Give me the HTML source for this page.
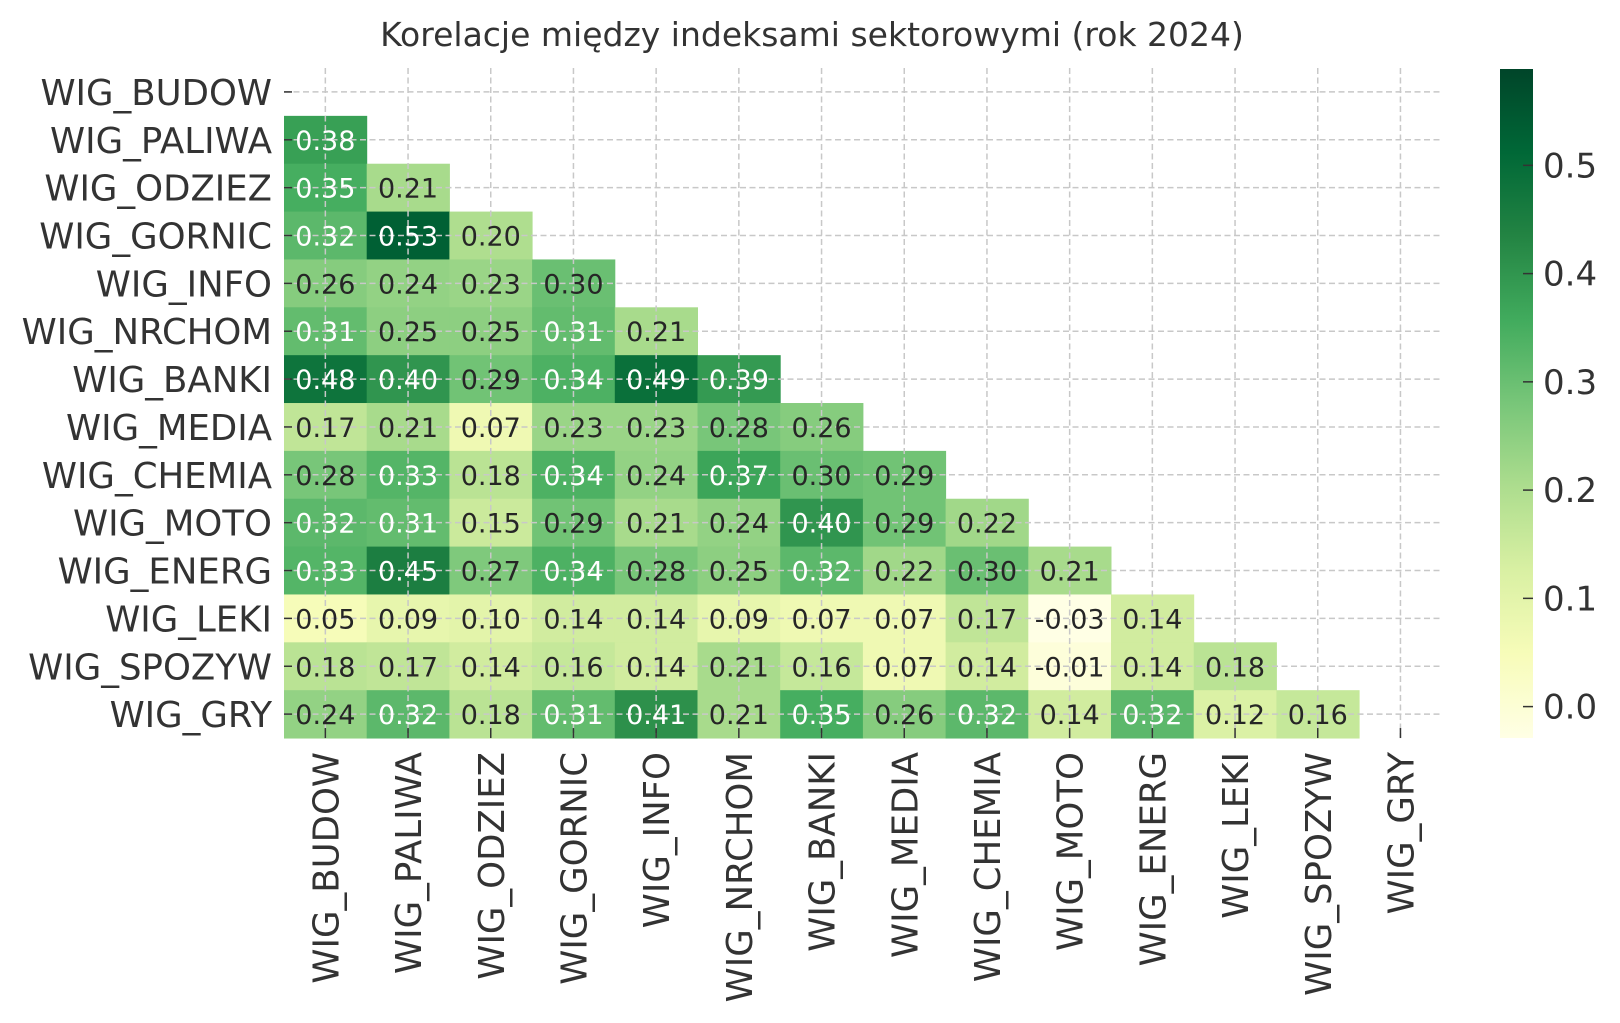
<!DOCTYPE html>
<html><head><meta charset="utf-8"><style>
html,body{margin:0;padding:0;background:#fff;}
svg{display:block;font-family:"DejaVu Sans","Liberation Sans",sans-serif;}
</style></head><body>
<svg id="s" width="1620" height="1023" xmlns="http://www.w3.org/2000/svg"></svg>
<script>
const names=["WIG_BUDOW","WIG_PALIWA","WIG_ODZIEZ","WIG_GORNIC","WIG_INFO","WIG_NRCHOM","WIG_BANKI","WIG_MEDIA","WIG_CHEMIA","WIG_MOTO","WIG_ENERG","WIG_LEKI","WIG_SPOZYW","WIG_GRY"];
const V=[[],
[0.38],
[0.35,0.21],
[0.32,0.53,0.20],
[0.26,0.24,0.23,0.30],
[0.31,0.25,0.25,0.31,0.21],
[0.48,0.40,0.29,0.34,0.49,0.39],
[0.17,0.21,0.07,0.23,0.23,0.28,0.26],
[0.28,0.33,0.18,0.34,0.24,0.37,0.30,0.29],
[0.32,0.31,0.15,0.29,0.21,0.24,0.40,0.29,0.22],
[0.33,0.45,0.27,0.34,0.28,0.25,0.32,0.22,0.30,0.21],
[0.05,0.09,0.10,0.14,0.14,0.09,0.07,0.07,0.17,-0.03,0.14],
[0.18,0.17,0.14,0.16,0.14,0.21,0.16,0.07,0.14,-0.01,0.14,0.18],
[0.24,0.32,0.18,0.31,0.41,0.21,0.35,0.26,0.32,0.14,0.32,0.12,0.16]];
const stops=["#ffffe5","#f7fcb9","#d9f0a3","#addd8e","#78c679","#41ab5d","#238443","#006837","#004529"];
function hx(c){return [1,3,5].map(i=>parseInt(c.substr(i,2),16));}
const vmin=-0.029,vmax=0.589;
function col(v){let t=(v-vmin)/(vmax-vmin);t=Math.max(0,Math.min(1,t));let p=t*8,i=Math.min(7,Math.floor(p)),f=p-i;
const a=hx(stops[i]),b=hx(stops[i+1]);return "rgb("+a.map((x,k)=>Math.round(x+(b[k]-x)*f)).join(",")+")";}
const X0=284,CW=82.7,Y0=68,RH=47.86;
let h='';
h+='<text x="812" y="46" font-size="33" fill="#333" text-anchor="middle">Korelacje między indeksami sektorowymi (rok 2024)</text>';
for(let r=0;r<14;r++){for(let c=0;c<V[r].length;c++){let v=V[r][c];let x=X0+CW*c,y=Y0+RH*r;
h+=`<rect x="${x}" y="${y}" width="${CW+0.5}" height="${RH+0.5}" fill="${col(v)}"/>`;}}
for(let i=0;i<14;i++){let cx=X0+CW*i+CW/2;h+=`<line x1="${cx}" y1="${Y0}" x2="${cx}" y2="${Y0+14*RH}" stroke="#c8c8c8" stroke-width="1.5" stroke-dasharray="6,3.5"/>`;
let cy=Y0+RH*i+RH/2;h+=`<line x1="${X0}" y1="${cy}" x2="${X0+14*CW}" y2="${cy}" stroke="#c8c8c8" stroke-width="1.5" stroke-dasharray="6,3.5"/>`;
h+=`<line x1="${X0}" y1="${cy}" x2="${X0+8}" y2="${cy}" stroke="#333" stroke-width="1.5"/>`;
h+=`<line x1="${cx}" y1="${Y0+14*RH-10}" x2="${cx}" y2="${Y0+14*RH}" stroke="#333" stroke-width="1.5"/>`;}
for(let r=0;r<14;r++){for(let c=0;c<V[r].length;c++){let v=V[r][c];let x=X0+CW*c,y=Y0+RH*r;
h+=`<text x="${x+CW/2}" y="${y+RH/2+10}" font-size="27" text-anchor="middle" fill="${v>0.305?'#fff':'#262626'}">${v.toFixed(2)}</text>`;}}
for(let i=0;i<14;i++){let cy=Y0+RH*i+RH/2;h+=`<text x="272" y="${cy+13}" font-size="35.5" fill="#333" text-anchor="end">${names[i]}</text>`;
let cx=X0+CW*i+CW/2;h+=`<text transform="translate(${cx+13},752) rotate(-90)" font-size="35.5" fill="#333" text-anchor="end">${names[i]}</text>`;}
const cbx=1500,cbw=33,cbt=69,cbb=738;
h+='<defs><linearGradient id="g" x1="0" y1="1" x2="0" y2="0">'+stops.map((s,i)=>`<stop offset="${i/8}" stop-color="${s}"/>`).join('')+'</linearGradient></defs>';
h+=`<rect x="${cbx}" y="${cbt}" width="${cbw}" height="${cbb-cbt}" fill="url(#g)"/>`;
for(let k=0;k<=5;k++){let v=k/10;let y=cbb-(v-vmin)/(vmax-vmin)*(cbb-cbt);
h+=`<line x1="${cbx+cbw-10}" y1="${y}" x2="${cbx+cbw}" y2="${y}" stroke="#333" stroke-width="1.5"/>`;
h+=`<text x="1543" y="${y+12}" font-size="34" fill="#333">${v.toFixed(1)}</text>`;}
document.getElementById('s').innerHTML=h;
</script>
</body></html>
